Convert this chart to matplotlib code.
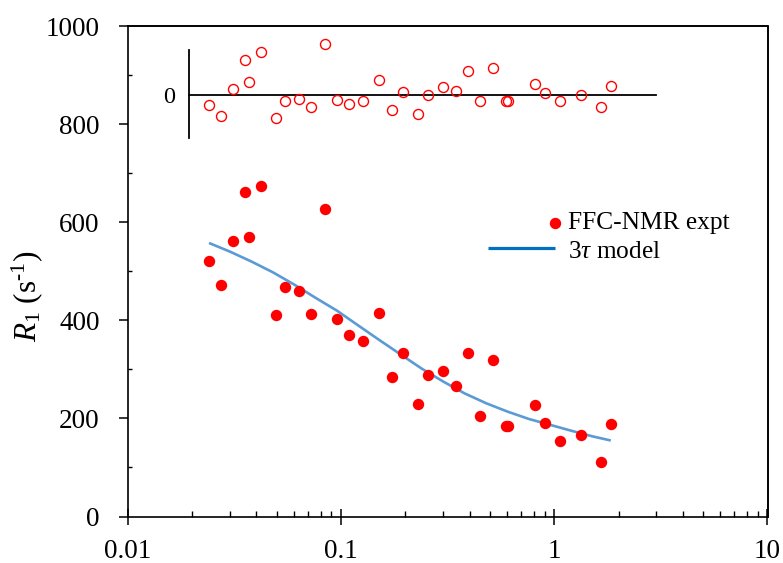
import math
import matplotlib
matplotlib.use("Agg")
import matplotlib.pyplot as plt
from matplotlib.ticker import LogLocator, FixedLocator, NullFormatter
from matplotlib.lines import Line2D

plt.rcParams['font.family'] = ['Liberation Serif', 'DejaVu Serif']
plt.rcParams['mathtext.fontset'] = 'custom'
plt.rcParams['mathtext.rm'] = 'Liberation Serif'
plt.rcParams['mathtext.it'] = 'Liberation Serif:italic'
plt.rcParams['axes.spines.top'] = True
plt.rcParams['axes.spines.right'] = True

# ---- data ----
field_expt = [0.0241, 0.0272, 0.0312, 0.0352, 0.0371, 0.0421, 0.0494, 0.0543,
              0.0633, 0.0725, 0.0841, 0.0954, 0.1094, 0.1264, 0.1497, 0.1728,
              0.1952, 0.2300, 0.2557, 0.3006, 0.3467, 0.3925, 0.4467, 0.5151,
              0.5947, 0.6077, 0.809, 0.901, 1.059, 1.336, 1.658, 1.843]
r1_expt = [521, 473, 561, 661, 571, 675, 412, 469,
           459, 414, 628, 402, 370, 359, 416, 284,
           333, 229, 289, 297, 267, 333, 206, 320,
           184, 184, 228, 190, 153, 167, 112, 188]
residuals = [-35, -75, 21, 126, 46, 155, -84, -21,
             -13, -43, 184, -19, -31, -23, 54, -53,
             11, -69, 1, 28, 13, 87, -23, 97,
             -23, -23, 39, 7, -22, -1, -44, 32]

field_model = [0.0240, 0.0302, 0.0380, 0.0479, 0.0603, 0.0759, 0.0955, 0.120,
               0.151, 0.191, 0.240, 0.302, 0.380, 0.479, 0.603, 0.759, 0.955,
               1.20, 1.51, 1.84]
r1_model = [558, 540, 520, 498, 473, 446, 420, 390,
            360, 330, 301, 275, 251, 231, 214, 199, 187,
            175, 163.5, 155]

y_ticks = [0, 200, 400, 600, 800, 1000]
y_minor = [100, 300, 500, 700, 900]
x_ticks = [0.01, 0.1, 1, 10]
x_tick_labels = ['0.01', '0.1', '1', '10']
legend_labels = ['FFC-NMR expt', r'3$\tau$ model']

W, H = 783, 563
fig = plt.figure(figsize=(W / 100, H / 100), dpi=100)
fig.patch.set_facecolor('white')

x0, x1 = 128.0, 767.5
y0, y1 = 516.5, 26.3
ax = fig.add_axes([x0 / W, 1 - y0 / H, (x1 - x0) / W, (y0 - y1) / H])
ax.set_facecolor('white')

ax.plot(field_model, r1_model, color='#5B9BD5', lw=1.9, solid_capstyle='butt',
        solid_joinstyle='round', zorder=2)
ax.plot(field_expt, r1_expt, 'o', color='#FF0000', ms=8.2, mew=0, zorder=3)

ax.set_xscale('log')
ax.set_xlim(0.01, 10)
ax.set_ylim(0, 1000)
ax.set_xticks(x_ticks)
ax.set_xticklabels(x_tick_labels)
ax.xaxis.set_minor_locator(LogLocator(base=10, subs=range(2, 10)))
ax.xaxis.set_minor_formatter(NullFormatter())
ax.set_yticks(y_ticks)
ax.yaxis.set_minor_locator(FixedLocator(y_minor))

for k, s in ax.spines.items():
    s.set_visible(True)
    s.set_color('black')
    s.set_linewidth(1.2)
ax.grid(False)
ax.tick_params(axis='x', which='major', direction='inout', length=11, width=1.1,
               labelsize=19.5, pad=11, colors='black')
ax.tick_params(axis='x', which='minor', direction='in', length=4.3, width=1.0,
               colors='black')
ax.tick_params(axis='y', which='major', direction='out', length=6.5, width=1.1,
               labelsize=19.5, pad=14, colors='black')
ax.tick_params(axis='y', which='minor', direction='in', length=3, width=1.0,
               colors='black')
ax.tick_params(top=False, right=False, which='both')

# explicit frame (top and right edges)
frame = Line2D([0, 1, 1], [1, 1, 0], transform=ax.transAxes, color='black',
               lw=1.2, clip_on=False, zorder=5)
ax.add_line(frame)

fig.text(27 / W, 1 - 296 / H, r'$R_1$ (s$^{\text{-1}}$)', rotation=90,
         ha='center', va='center', fontsize=22.5)

# manual legend
def fx(px):
    return (px - x0) / (x1 - x0)

def fy(py):
    return (y0 - py) / (y0 - y1)

ax.plot([fx(555)], [fy(222.7)], 'o', color='#FF0000', ms=8.2, mew=0,
        transform=ax.transAxes, clip_on=False)
ax.plot([fx(488.3), fx(555)], [fy(247.7), fy(247.7)], color='#0070C0', lw=2.3,
        solid_capstyle='butt', transform=ax.transAxes, clip_on=False)
ax.text(fx(567.7), fy(229.3), legend_labels[0], transform=ax.transAxes,
        ha='left', va='baseline', fontsize=18.3)
ax.text(fx(567.7), fy(258), legend_labels[1], transform=ax.transAxes,
        ha='left', va='baseline', fontsize=18.3)

# inset residual plot
def px_of(xv):
    return x0 + (x1 - x0) / 3.0 * (math.log10(xv) + 2)

ins_xmin, ins_xmax = 0.0194, 3.0
il, ir = px_of(ins_xmin), px_of(ins_xmax)
it, ib = 50.0, 138.3
ax2 = fig.add_axes([il / W, 1 - ib / H, (ir - il) / W, (ib - it) / H])
ax2.patch.set_alpha(0)
ax2.set_xscale('log')
ax2.set_xlim(ins_xmin, ins_xmax)
ax2.set_ylim(-156, 162)
ax2.plot(field_expt, residuals, 'o', mfc='none', mec='#FF0000', ms=7.2, mew=1.0,
         clip_on=False, zorder=3)
for k in ['top', 'right']:
    ax2.spines[k].set_visible(False)
for k in ['left', 'bottom']:
    ax2.spines[k].set_visible(True)
    ax2.spines[k].set_color('black')
    ax2.spines[k].set_linewidth(1.3)
ax2.spines['bottom'].set_position(('data', 0))
ax2.grid(False)
ax2.set_xticks([])
ax2.xaxis.set_minor_locator(FixedLocator([]))
ax2.set_yticks([0])
ax2.set_yticklabels(['0'])
ax2.tick_params(axis='y', length=0, labelsize=17.5, pad=10, colors='black')

fig.savefig('out.png', dpi=100, facecolor='white')
